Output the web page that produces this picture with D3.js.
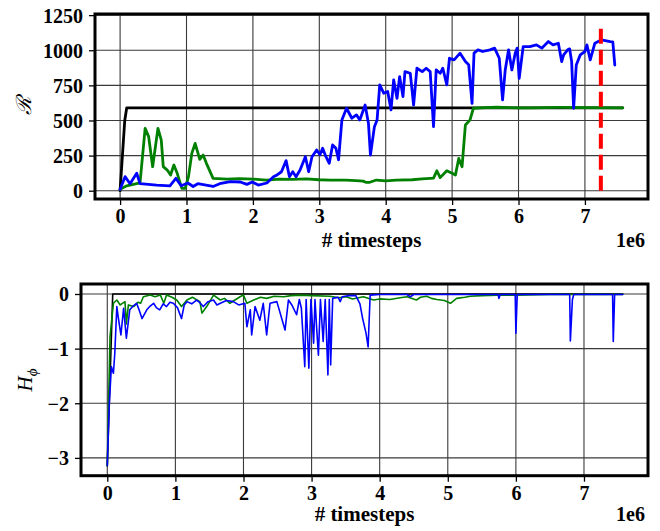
<!DOCTYPE html>
<html>
<head>
<meta charset="utf-8">
<script src="https://cdn.jsdelivr.net/npm/d3@7"></script>
<style>
  html, body { margin: 0; padding: 0; background: #fff; }
  svg { display: block; }
  .tick text { font-family: "Liberation Serif", "Times New Roman", serif; font-weight: bold; font-size: 20px; fill: #000; }
</style>
</head>
<body>
<svg id="chart" width="660" height="531"></svg>
<script>
// ---------- data (x in units of 1e6 timesteps) ----------
const xTicks = [0, 1, 2, 3, 4, 5, 6, 7];
const rewardTicks = [0, 250, 500, 750, 1000, 1250];
const entropyTicks = [-3, -2, -1, 0];
const xLabel = "# timesteps";
const xScaleLabel = "1e6";

const rewardBlack = [[0,0],[0.07,500],[0.1,590],[7.57,590]];
const rewardGreen = [[0,10],[0.1,35],[0.25,50],[0.30,55],[0.377,444],[0.43,385],[0.49,171],[0.57,444],[0.62,360],[0.65,171],[0.71,147],[0.76,112],[0.81,183],[0.86,124],[0.93,17],[0.98,17],[1.03,100],[1.08,266],[1.13,337],[1.20,223],[1.25,254],[1.30,195],[1.40,88],[1.61,83],[1.8,86],[2.0,83],[2.2,76],[2.4,82],[2.6,80],[2.8,84],[3.0,78],[3.16,76],[3.4,76],[3.55,72],[3.66,68],[3.7,60],[3.76,60],[3.86,76],[4.0,70],[4.16,76],[4.4,78],[4.55,84],[4.67,88],[4.72,90],[4.77,142],[4.82,93],[4.92,142],[5.0,125],[5.05,112],[5.10,230],[5.15,171],[5.20,468],[5.27,504],[5.32,587],[5.5,592],[5.67,594],[6.0,590],[6.2,590],[6.6,593],[7.0,592],[7.57,590]];
const rewardBlue = [[0,10],[0.075,100],[0.15,50],[0.25,124],[0.30,50],[0.55,40],[0.75,35],[0.84,88],[0.92,35],[1.02,55],[1.10,30],[1.17,50],[1.40,30],[1.50,50],[1.66,65],[1.81,62],[1.91,45],[1.99,62],[2.08,40],[2.21,55],[2.31,100],[2.36,111],[2.43,135],[2.50,214],[2.55,100],[2.60,135],[2.65,100],[2.71,147],[2.79,242],[2.84,135],[2.89,242],[2.96,290],[3.01,256],[3.05,302],[3.10,242],[3.15,195],[3.20,326],[3.25,302],[3.29,219],[3.34,504],[3.41,587],[3.49,516],[3.56,540],[3.61,504],[3.69,610],[3.74,480],[3.77,254],[3.83,456],[3.87,504],[3.91,753],[3.97,694],[4.03,706],[4.08,575],[4.12,789],[4.17,658],[4.21,812],[4.26,670],[4.29,848],[4.37,836],[4.42,610],[4.47,872],[4.55,848],[4.61,872],[4.67,848],[4.72,456],[4.76,860],[4.82,836],[4.86,872],[4.92,753],[4.96,943],[5.03,931],[5.12,979],[5.20,919],[5.25,896],[5.30,622],[5.33,979],[5.39,1003],[5.46,991],[5.57,1003],[5.64,1015],[5.71,943],[5.76,646],[5.80,860],[5.85,1003],[5.90,860],[5.95,979],[5.98,1015],[6.01,800],[6.07,1026],[6.17,1026],[6.27,1038],[6.35,1015],[6.45,1062],[6.52,1038],[6.60,1050],[6.65,919],[6.68,967],[6.74,1003],[6.77,1010],[6.80,919],[6.83,587],[6.87,895],[6.93,967],[7.00,991],[7.03,1038],[7.08,931],[7.15,1050],[7.25,1074],[7.38,1062],[7.42,1060],[7.45,895]];
const rewardThreshold = [[7.24,0],[7.24,1170]];

const entropyBlack = [[0,-3.15],[0.08,0],[7.57,0]];
const entropyGreen = [[0,-3.14],[0.04,-0.78],[0.09,-0.17],[0.14,-0.11],[0.19,-0.2],[0.26,-0.14],[0.28,-0.55],[0.31,-0.2],[0.39,-0.23],[0.45,-0.15],[0.49,-0.17],[0.53,-0.05],[0.63,-0.02],[0.7,-0.05],[0.78,-0.02],[0.83,-0.17],[0.87,-0.02],[0.95,-0.06],[1.02,-0.11],[1.09,-0.23],[1.17,-0.11],[1.25,-0.06],[1.36,-0.14],[1.39,-0.35],[1.46,-0.23],[1.56,-0.02],[1.66,-0.11],[1.72,-0.08],[1.80,-0.17],[1.95,-0.05],[2.0,-0.02],[2.05,-0.17],[2.15,-0.11],[2.25,-0.06],[2.34,-0.08],[2.45,-0.04],[2.59,-0.05],[2.7,-0.03],[2.83,-0.02],[3.0,-0.03],[3.27,-0.04],[3.4,-0.07],[3.51,-0.05],[3.6,-0.09],[3.76,-0.05],[3.91,-0.11],[4.0,-0.09],[4.15,-0.10],[4.3,-0.07],[4.40,-0.05],[4.54,-0.11],[4.6,-0.06],[4.69,-0.04],[4.76,-0.08],[4.84,-0.10],[4.95,-0.12],[5.04,-0.17],[5.13,-0.08],[5.25,-0.06],[5.33,-0.04],[5.5,-0.03],[5.72,-0.02],[6.0,-0.02],[6.5,-0.01],[7.0,-0.01],[7.57,-0.01]];
const entropyBlue = [[0,-3.14],[0.03,-2.0],[0.06,-1.33],[0.09,-1.45],[0.11,-1.09],[0.14,-0.23],[0.16,-0.42],[0.20,-0.75],[0.24,-0.26],[0.28,-0.81],[0.33,-0.29],[0.38,-0.22],[0.43,-0.17],[0.47,-0.3],[0.51,-0.45],[0.58,-0.29],[0.63,-0.22],[0.68,-0.17],[0.72,-0.25],[0.77,-0.29],[0.82,-0.18],[0.87,-0.23],[0.92,-0.15],[0.97,-0.17],[1.03,-0.25],[1.09,-0.45],[1.13,-0.2],[1.17,-0.14],[1.24,-0.18],[1.31,-0.11],[1.36,-0.16],[1.41,-0.23],[1.48,-0.14],[1.56,-0.11],[1.61,-0.2],[1.66,-0.17],[1.75,-0.12],[1.85,-0.14],[1.93,-0.2],[2.02,-0.17],[2.05,-0.6],[2.10,-0.29],[2.12,-0.75],[2.17,-0.23],[2.24,-0.48],[2.29,-0.17],[2.34,-0.75],[2.39,-0.17],[2.49,-0.14],[2.61,-0.66],[2.66,-0.11],[2.71,-0.2],[2.78,-0.38],[2.82,-0.1],[2.85,-0.26],[2.90,-1.33],[2.92,-0.1],[2.96,-1.36],[2.99,-0.1],[3.03,-0.9],[3.05,-0.1],[3.07,-0.53],[3.10,-1.12],[3.13,-0.1],[3.17,-0.87],[3.20,-0.1],[3.24,-1.48],[3.26,-0.1],[3.28,-1.3],[3.31,-0.08],[3.39,-0.06],[3.42,-0.14],[3.45,-0.05],[3.55,-0.03],[3.65,-0.03],[3.71,-0.18],[3.75,-0.45],[3.80,-0.72],[3.83,-0.97],[3.86,-0.02],[4.0,-0.01],[4.4,-0.01],[4.45,-0.05],[4.5,-0.01],[5.74,-0.01],[5.75,-0.08],[5.77,-0.01],[5.99,-0.01],[6.0,-0.72],[6.02,-0.01],[6.79,-0.01],[6.8,-0.86],[6.83,-0.1],[6.85,-0.01],[7.42,-0.01],[7.43,-0.87],[7.45,-0.01],[7.57,-0.01]];

// ---------- drawing ----------
const svg = d3.select("#chart");
const serif = '"Liberation Serif", "Times New Roman", serif';

function panel(opts) {
  const x = d3.scaleLinear().domain(opts.xDomain).range([opts.left, opts.right]);
  const y = d3.scaleLinear().domain(opts.yDomain).range([opts.bottom, opts.top]);
  const g = svg.append("g");

  // grid
  g.append("g").selectAll("line").data(xTicks).join("line")
    .attr("x1", d => x(d)).attr("x2", d => x(d))
    .attr("y1", opts.top).attr("y2", opts.bottom)
    .attr("stroke", "#3a3a3a").attr("stroke-width", 1.1);
  g.append("g").selectAll("line").data(opts.yTicks).join("line")
    .attr("x1", opts.left).attr("x2", opts.right)
    .attr("y1", d => y(d)).attr("y2", d => y(d))
    .attr("stroke", "#3a3a3a").attr("stroke-width", 1.1);

  // series
  const line = d3.line().x(d => x(d[0])).y(d => y(d[1]));
  opts.series.forEach(s => {
    g.append("path").datum(s.data)
      .attr("d", line)
      .attr("fill", "none")
      .attr("stroke", s.color)
      .attr("stroke-width", s.width)
      .attr("stroke-linejoin", "round")
      .attr("stroke-linecap", s.dash ? "butt" : "round")
      .attr("stroke-dasharray", s.dash || null);
  });

  // axes
  const xAxis = g.append("g").attr("transform", `translate(0,${opts.bottom})`)
    .call(d3.axisBottom(x).tickValues(xTicks).tickFormat(d3.format("d")).tickSize(6).tickSizeOuter(0));
  xAxis.select(".domain").remove();
  xAxis.selectAll(".tick line").attr("stroke", "#000").attr("stroke-width", 1.3);
  xAxis.selectAll(".tick text").attr("y", 24).attr("dy", null);

  const yAxis = g.append("g").attr("transform", `translate(${opts.left},0)`)
    .call(d3.axisLeft(y).tickValues(opts.yTicks).tickFormat(opts.yFormat).tickSize(6).tickPadding(6).tickSizeOuter(0));
  yAxis.select(".domain").remove();
  yAxis.selectAll(".tick line").attr("stroke", "#000").attr("stroke-width", 1.3);
  yAxis.selectAll(".tick text").attr("dy", "0.35em");

  // frame
  g.append("rect")
    .attr("x", opts.left).attr("y", opts.top)
    .attr("width", opts.right - opts.left).attr("height", opts.bottom - opts.top)
    .attr("fill", "none").attr("stroke", "#000").attr("stroke-width", 3);

  // x label + offset text
  g.append("text").attr("x", (opts.left + opts.right) / 2).attr("y", opts.xLabelY)
    .attr("text-anchor", "middle")
    .style("font-family", serif).style("font-weight", "bold").style("font-size", "21px")
    .text(xLabel);
  g.append("text").attr("x", 645).attr("y", opts.xLabelY)
    .attr("text-anchor", "end")
    .style("font-family", serif).style("font-weight", "bold").style("font-size", "20px")
    .text(xScaleLabel);

  return { x, y, g };
}

const minusFmt = d => (d < 0 ? "\u2212" + Math.abs(d) : String(d));

// top panel: reward
const rewardPanel = panel({
  left: 95, right: 648, top: 14, bottom: 199,
  xDomain: [-0.378, 7.95], yDomain: [-59, 1258],
  yTicks: rewardTicks, yFormat: d3.format("d"),
  xLabelY: 246.5,
  series: [
    { data: rewardBlack, color: "#000000", width: 2.8 },
    { data: rewardGreen, color: "#008000", width: 2.8 },
    { data: rewardBlue, color: "#0000ff", width: 2.8 },
    { data: rewardThreshold, color: "#ff0000", width: 4, dash: "15,6" }
  ]
});
rewardPanel.g.append("text")
  .attr("transform", "translate(31,106) rotate(-90)")
  .attr("text-anchor", "middle")
  .style("font-family", '"DejaVu Serif", serif').style("font-style", "italic").style("font-size", "21px")
  .text("\u211B");

// bottom panel: entropy
const entropyPanel = panel({
  left: 81, right: 648, top: 284, bottom: 475.7,
  xDomain: [-0.386, 7.94], yDomain: [-3.326, 0.183],
  yTicks: entropyTicks, yFormat: minusFmt,
  xLabelY: 521,
  series: [
    { data: entropyBlack, color: "#000000", width: 1.6 },
    { data: entropyGreen, color: "#008000", width: 1.6 },
    { data: entropyBlue, color: "#0000ff", width: 1.6 }
  ]
});
const hl = entropyPanel.g.append("text")
  .attr("transform", "translate(32,380) rotate(-90)")
  .attr("text-anchor", "middle")
  .style("font-family", serif).style("font-style", "italic").style("font-size", "21px");
hl.append("tspan").text("H");
hl.append("tspan").attr("dy", 5).style("font-size", "15px").text("\u03D5");
</script>
</body>
</html>
